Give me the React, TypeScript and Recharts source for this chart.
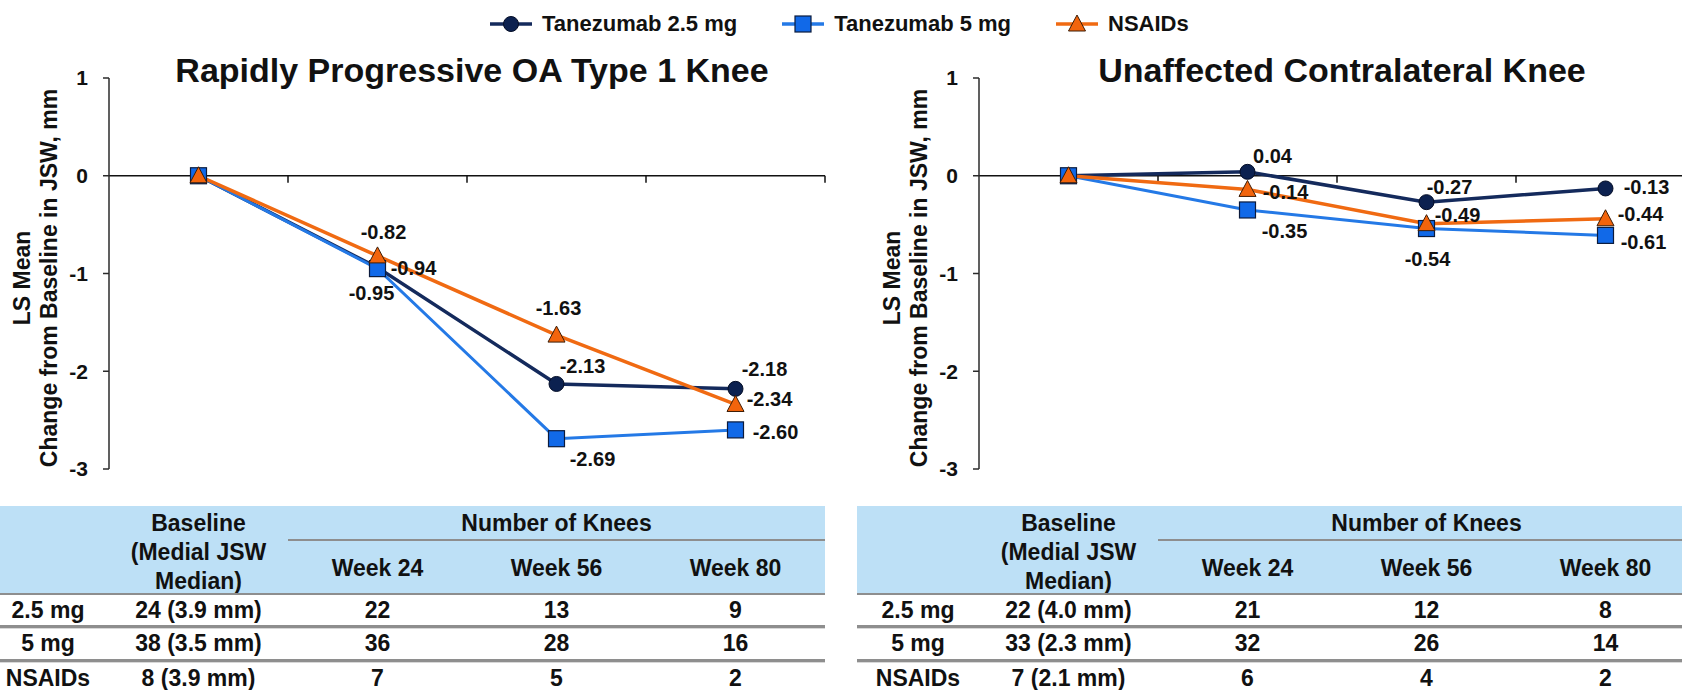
import React from "react"
import {
  LineChart,
  Line,
  XAxis,
  YAxis,
  ReferenceLine,
  LabelList,
} from "recharts"

const categories = ["Baseline", "Week 24", "Week 56", "Week 80"]
const seriesNames = ["Tanezumab 2.5 mg", "Tanezumab 5 mg", "NSAIDs"]
const yTicks = [1, 0, -1, -2, -3]

// Rapidly progressive OA type 1 knee
const rpoaT25 = [0, -0.94, -2.13, -2.18]
const rpoaT5 = [0, -0.95, -2.69, -2.6]
const rpoaNsaid = [0, -0.82, -1.63, -2.34]

// Unaffected contralateral knee
const ucT25 = [0, 0.04, -0.27, -0.13]
const ucT5 = [0, -0.35, -0.54, -0.61]
const ucNsaid = [0, -0.14, -0.49, -0.44]

// knee counts table
const rowLabels = ["2.5 mg", "5 mg", "NSAIDs"]
const rpoaBaseline = ["24 (3.9 mm)", "38 (3.5 mm)", "8 (3.9 mm)"]
const rpoaKnees = [
  [22, 13, 9],
  [36, 28, 16],
  [7, 5, 2],
]
const ucBaseline = ["22 (4.0 mm)", "33 (2.3 mm)", "7 (2.1 mm)"]
const ucKnees = [
  [21, 12, 8],
  [32, 26, 14],
  [6, 4, 2],
]

// label placement (px offset of label centre from the point)
type Off = [number, number] | null
const rpoaOffsets: Record<string, Off[]> = {
  t25: [null, [36, 0], [26, -18], [29, -20]],
  t5: [null, [-6, 24], [36, 20], [40, 2]],
  nsaid: [null, [6, -24], [2, -27], [34, -5]],
}
const ucOffsets: Record<string, Off[]> = {
  t25: [null, [25, -16], [23, -15], [41, -1]],
  t5: [null, [37, 21], [1, 30], [38, 7]],
  nsaid: [null, [38, 3], [31, -9], [35, -5]],
}

const FONT = "'Liberation Sans', Arial, Helvetica, sans-serif"
const NAVY = "#142a5c"
const BLUE = "#2479e6"
const ORANGE = "#f06a12"
const HEADER_BG = "#bde0f6"
const RULE = "#8e8e8e"

const PLOT_LEFT = 109
const BAND = 179
const LABEL_COL = 122

function CircleDot({ cx, cy }: { cx?: number; cy?: number }) {
  if (cx == null || cy == null) return null
  return <circle cx={cx} cy={cy} r={7.5} fill="#0c2150" stroke="#040d26" strokeWidth={1} />
}

function SquareDot({ cx, cy }: { cx?: number; cy?: number }) {
  if (cx == null || cy == null) return null
  return <rect x={cx - 8} y={cy - 8} width={16} height={16} fill="#1169e8" stroke="#0b1b3d" strokeWidth={1.2} />
}

function TriangleDot({ cx, cy }: { cx?: number; cy?: number }) {
  if (cx == null || cy == null) return null
  return (
    <path
      d={`M${cx},${cy - 9} L${cx + 8.5},${cy + 7} L${cx - 8.5},${cy + 7} Z`}
      fill="#f2640c"
      stroke="#3d1d06"
      strokeWidth={1}
    />
  )
}

const markers = [CircleDot, SquareDot, TriangleDot]
const colors = [NAVY, BLUE, ORANGE]

function makeLabel(offsets: Off[]) {
  return (props: any) => {
    const { x, y, value, index } = props
    const off = offsets[index]
    if (!off || x == null || y == null) return null
    return (
      <text
        key={`lbl-${index}`}
        x={x + off[0]}
        y={y + off[1]}
        textAnchor="middle"
        dominantBaseline="central"
        fontFamily={FONT}
        fontWeight={700}
        fontSize={20}
        fill="#111"
      >
        {Number(value).toFixed(2)}
      </text>
    )
  }
}

function LegendIcon({ index }: { index: number }) {
  const M = markers[index]
  return (
    <svg width={42} height={20} style={{ display: "block" }}>
      <line x1={0} y1={10} x2={42} y2={10} stroke={colors[index]} strokeWidth={3.5} />
      <M cx={21} cy={10} />
    </svg>
  )
}

function Legend() {
  return (
    <div
      style={{
        position: "absolute",
        top: 10,
        left: 490,
        height: 28,
        display: "flex",
        alignItems: "center",
        gap: 45,
        fontSize: 22,
        fontWeight: 700,
        lineHeight: "28px",
      }}
    >
      {seriesNames.map((name, i) => (
        <div key={name} style={{ display: "flex", alignItems: "center", gap: 10 }}>
          <LegendIcon index={i} />
          <span>{name}</span>
        </div>
      ))}
    </div>
  )
}

interface PanelProps {
  left: number
  title: string
  t25: number[]
  t5: number[]
  nsaid: number[]
  offsets: Record<string, Off[]>
  baseline: string[]
  knees: number[][]
}

function Panel({ left, title, t25, t5, nsaid, offsets, baseline, knees }: PanelProps) {
  const data = categories.map((c, i) => ({ x: i, cat: c, t25: t25[i], t5: t5[i], nsaid: nsaid[i] }))
  const boundaries = [0.5, 1.5, 2.5, 3.5]
  const keys = ["t25", "t5", "nsaid"]
  const widths = [3.5, 3, 3.5]
  const tableLeft = left + PLOT_LEFT - LABEL_COL
  const cellText: React.CSSProperties = { position: "absolute", textAlign: "center", fontSize: 23, fontWeight: 700 }
  const rowTops = [595, 627, 661]
  const rowH = [31, 33, 34]

  return (
    <>
      <div
        style={{
          position: "absolute",
          left: left + PLOT_LEFT + 363 - 400,
          top: 53,
          width: 800,
          textAlign: "center",
          fontSize: 34,
          fontWeight: 700,
          lineHeight: "34px",
        }}
      >
        {title}
      </div>

      <div
        style={{
          position: "absolute",
          left: left + PLOT_LEFT - 73 - 200,
          top: 278 - 27,
          width: 400,
          height: 54,
          lineHeight: "27px",
          textAlign: "center",
          fontSize: 23,
          fontWeight: 700,
          transform: "rotate(-90deg)",
          transformOrigin: "center",
          whiteSpace: "nowrap",
        }}
      >
        <div>LS Mean</div>
        <div>Change from Baseline in JSW, mm</div>
      </div>

      <div style={{ position: "absolute", left, top: 0 }}>
        <LineChart width={830} height={480} data={data} margin={{ top: 78, right: 5, bottom: 11, left: 0 }}>
          <XAxis type="number" dataKey="x" domain={[-0.5, 3.5]} hide />
          <YAxis
            type="number"
            domain={[-3, 1]}
            ticks={yTicks}
            interval={0}
            width={PLOT_LEFT}
            axisLine={{ stroke: "#2b2b2b", strokeWidth: 1.5 }}
            tickLine={{ stroke: "#2b2b2b", strokeWidth: 1.5 }}
            tickSize={6}
            tickMargin={15}
            tick={{ fill: "#111", fontSize: 21, fontWeight: 700, fontFamily: FONT }}
          />
          <ReferenceLine y={0} stroke="#111" strokeWidth={1.5} ifOverflow="visible" />
          {boundaries.map(b => (
            <ReferenceLine
              key={b}
              segment={[{ x: b, y: 0 }, { x: b, y: -0.072 }]}
              stroke="#111"
              strokeWidth={1.5}
              ifOverflow="visible"
            />
          ))}
          {keys.map((k, i) => {
            const M = markers[i]
            return (
              <Line
                key={k}
                type="linear"
                dataKey={k}
                name={seriesNames[i]}
                stroke={colors[i]}
                strokeWidth={widths[i]}
                dot={(p: any) => <M key={`${k}-${p.index}`} cx={p.cx} cy={p.cy} />}
                activeDot={false}
                isAnimationActive={false}
              >
                <LabelList dataKey={k} content={makeLabel(offsets[k])} />
              </Line>
            )
          })}
        </LineChart>
      </div>

      {/* knee count table */}
      <div style={{ position: "absolute", left: tableLeft, top: 506, width: LABEL_COL + BAND * 4, height: 88, background: HEADER_BG }}>
        <div style={{ ...cellText, left: LABEL_COL, width: BAND, top: 3, lineHeight: "29px" }}>
          <div>Baseline</div>
          <div>(Medial JSW</div>
          <div>Median)</div>
        </div>
        <div
          style={{
            ...cellText,
            left: LABEL_COL + BAND,
            width: BAND * 3,
            top: 0,
            height: 33,
            lineHeight: "34px",
            borderBottom: `2px solid ${RULE}`,
          }}
        >
          Number of Knees
        </div>
        {categories.slice(1).map((c, j) => (
          <div key={c} style={{ ...cellText, left: LABEL_COL + BAND * (j + 1), width: BAND, top: 48, lineHeight: "28px" }}>
            {c}
          </div>
        ))}
      </div>
      <div style={{ position: "absolute", left: tableLeft, top: 593, width: LABEL_COL + BAND * 4, height: 2, background: RULE }} />
      {rowLabels.map((r, i) => (
        <div key={r} style={{ position: "absolute", left: tableLeft, top: rowTops[i], width: LABEL_COL + BAND * 4, height: rowH[i] }}>
          <div style={{ ...cellText, left: 0, width: LABEL_COL, top: 0, lineHeight: `${rowH[i]}px` }}>{r}</div>
          <div style={{ ...cellText, left: LABEL_COL, width: BAND, top: 0, lineHeight: `${rowH[i]}px` }}>{baseline[i]}</div>
          {knees[i].map((n, j) => (
            <div key={j} style={{ ...cellText, left: LABEL_COL + BAND * (j + 1), width: BAND, top: 0, lineHeight: `${rowH[i]}px` }}>
              {n}
            </div>
          ))}
          {i < rowLabels.length - 1 && (
            <div style={{ position: "absolute", left: 0, bottom: -2, width: "100%", height: 3, background: RULE, boxShadow: "0 1px 0 #d8d8d8" }} />
          )}
        </div>
      ))}
    </>
  )
}

export default function App() {
  return (
    <div
      style={{
        position: "absolute",
        top: 0,
        left: 0,
        width: 1682,
        height: 690,
        overflow: "hidden",
        background: "#fff",
        fontFamily: FONT,
        color: "#111",
      }}
    >
      <Legend />
      <Panel
        left={0}
        title="Rapidly Progressive OA Type 1 Knee"
        t25={rpoaT25}
        t5={rpoaT5}
        nsaid={rpoaNsaid}
        offsets={rpoaOffsets}
        baseline={rpoaBaseline}
        knees={rpoaKnees}
      />
      <Panel
        left={870}
        title="Unaffected Contralateral Knee"
        t25={ucT25}
        t5={ucT5}
        nsaid={ucNsaid}
        offsets={ucOffsets}
        baseline={ucBaseline}
        knees={ucKnees}
      />
    </div>
  )
}
